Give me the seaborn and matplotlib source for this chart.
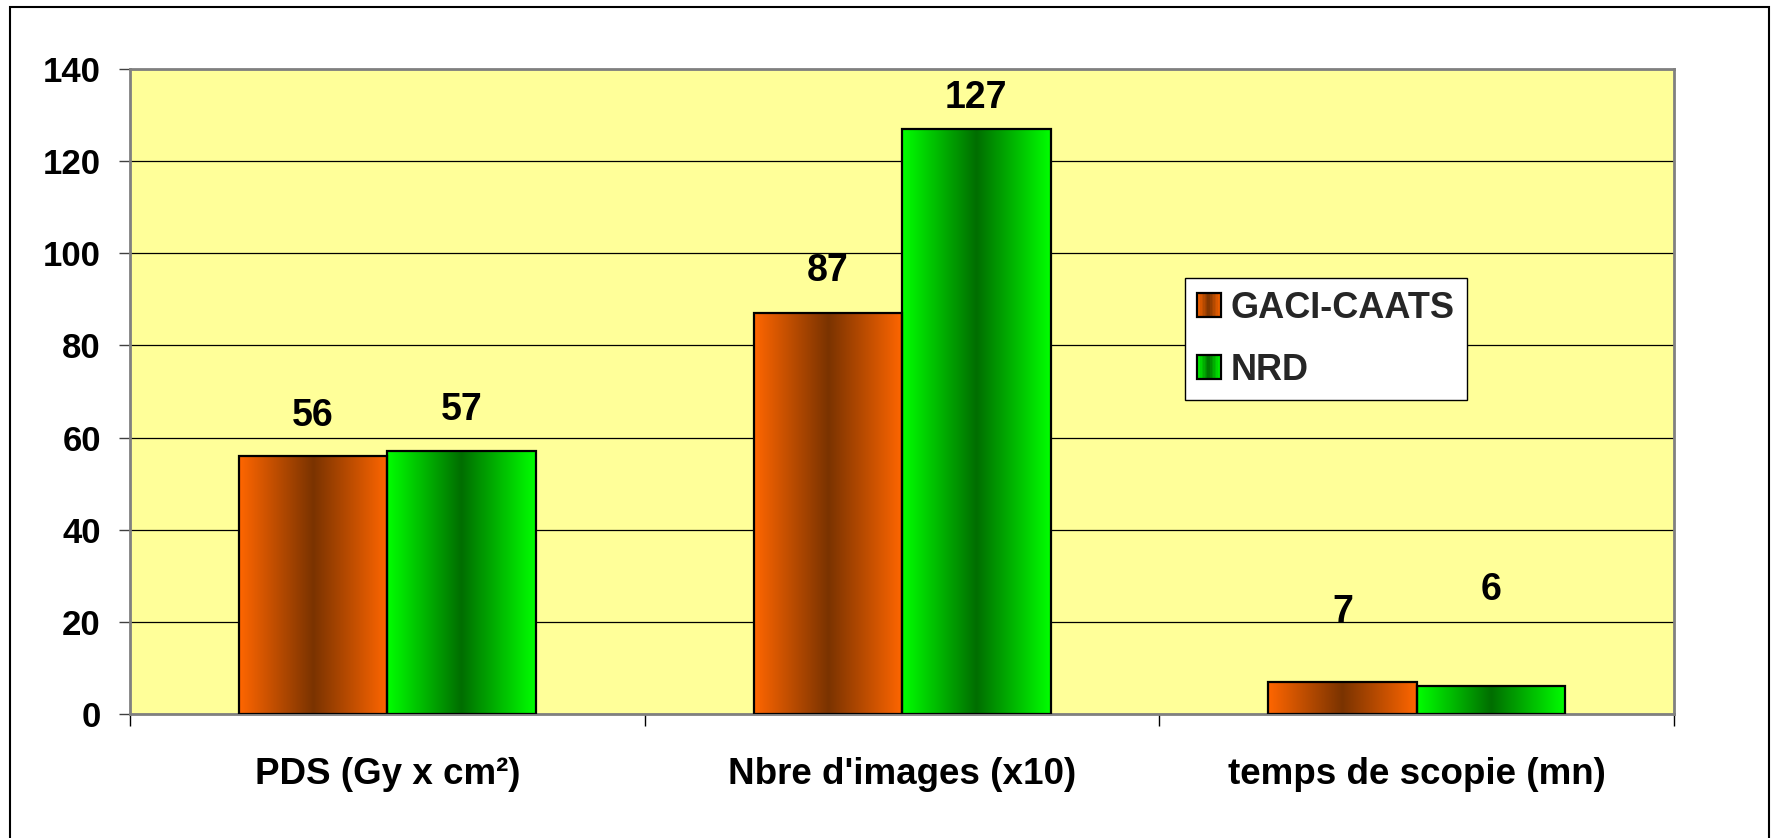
import numpy as np
import pandas as pd
import matplotlib
matplotlib.use("Agg")
import matplotlib.pyplot as plt
import seaborn as sns
from matplotlib.colors import LinearSegmentedColormap
from matplotlib.patches import Rectangle
from matplotlib.legend_handler import HandlerBase

# ---- data -------------------------------------------------------------
categories = ["PDS (Gy x cm²)", "Nbre d'images (x10)", "temps de scopie (mn)"]
series = ["GACI-CAATS", "NRD"]
gaci_values = [56, 87, 7]
nrd_values = [57, 127, 6]
y_ticks = [0, 20, 40, 60, 80, 100, 120, 140]

# ---- styling ----------------------------------------------------------
palette = {"GACI-CAATS": "#FF6600", "NRD": "#00FF00"}
gradients = {
    "GACI-CAATS": LinearSegmentedColormap.from_list(
        "gaci", ["#FF6600", "#7A3300", "#FF6600"]),
    "NRD": LinearSegmentedColormap.from_list(
        "nrd", ["#00FF00", "#006E00", "#00FF00"]),
}
# vertical offset (points) of each value label above its bar, GACI then NRD
label_offsets = {"GACI-CAATS": [29, 30, 50], "NRD": [30, 22, 69]}

sns.set_theme(style="white")
plt.rcParams["font.family"] = ["Liberation Sans", "DejaVu Sans"]
plt.rcParams["font.weight"] = "bold"

df = pd.DataFrame({
    "categorie": categories * 2,
    "serie": [series[0]] * len(categories) + [series[1]] * len(categories),
    "valeur": gaci_values + nrd_values,
})

fig = plt.figure(figsize=(17.73, 8.38), dpi=100)
fig.patch.set_facecolor("white")
ax = fig.add_axes([0.0733, 0.148, 0.8709, 0.7697])
ax.set_facecolor("#FFFF99")

sns.barplot(data=df, x="categorie", y="valeur", hue="serie",
            hue_order=series, order=categories, palette=palette,
            saturation=1, width=0.577, gap=0, legend=False,
            edgecolor="black", linewidth=1.6, ax=ax, zorder=3)

# replace flat fills with a horizontal light-dark-light gradient
grad = np.linspace(0, 1, 256).reshape(1, -1)
bars = [p for p in ax.patches if isinstance(p, Rectangle) and p.get_height() > 0]
per_series = {s: [] for s in series}
for p in bars:
    fc = p.get_facecolor()
    s = series[0] if fc[0] > 0.5 else series[1]
    per_series[s].append(p)
    x0, w, h = p.get_x(), p.get_width(), p.get_height()
    ax.imshow(grad, extent=[x0, x0 + w, 0, h], aspect="auto",
              cmap=gradients[s], interpolation="bicubic", zorder=2)
    p.set_facecolor("none")
ax.set_xlim(-0.5, len(categories) - 0.5)
ax.set_ylim(0, 140)
ax.set_aspect("auto")

# value labels
for s in series:
    ps = sorted(per_series[s], key=lambda r: r.get_x())
    for p, off in zip(ps, label_offsets[s]):
        v = p.get_height()
        ax.annotate(f"{v:g}", xy=(p.get_x() + p.get_width() / 2, v),
                    xytext=(0, off), textcoords="offset points",
                    ha="center", va="center", fontsize=27,
                    fontweight="bold", color="black", zorder=5)

# grid and axes
ax.set_yticks(y_ticks)
ax.yaxis.grid(True, color="black", linewidth=0.9)
ax.set_axisbelow(True)
for sp in ax.spines.values():
    sp.set_visible(True)
    sp.set_color("#808080")
    sp.set_linewidth(2)

ax.tick_params(axis="y", which="major", direction="out", length=8,
               width=1, color="#404040", pad=13, labelsize=25,
               left=True)
ax.set_xticks(range(len(categories)))
ax.set_xticklabels(categories)
ax.set_xticks(np.arange(-0.5, len(categories)), minor=True)
ax.tick_params(axis="x", which="major", length=0, pad=31, labelsize=26.5)
ax.tick_params(axis="x", which="minor", direction="out", length=8.6,
               width=1, color="black", bottom=True)
for lbl in ax.get_xticklabels() + ax.get_yticklabels():
    lbl.set_fontweight("bold")
    lbl.set_color("black")
ax.set_xlabel("")
ax.set_ylabel("")


# legend with gradient swatches
class GradientHandler(HandlerBase):
    def __init__(self, cmap, n=16):
        super().__init__()
        self.cmap = cmap
        self.n = n

    def create_artists(self, legend, orig_handle, xdescent, ydescent,
                       width, height, fontsize, trans):
        side = min(width, height)
        x0 = -xdescent + width - side
        y0 = -ydescent + (height - side) / 2
        arts = []
        step = side / self.n
        for i in range(self.n):
            c = self.cmap((i + 0.5) / self.n)
            arts.append(Rectangle((x0 + i * step, y0), step * 1.05, side,
                                  facecolor=c, edgecolor="none",
                                  transform=trans))
        arts.append(Rectangle((x0, y0), side, side, facecolor="none",
                              edgecolor="black", linewidth=1.6,
                              transform=trans))
        return arts


handles = [Rectangle((0, 0), 1, 1) for _ in series]
leg = ax.legend(handles, series,
                handler_map={h: GradientHandler(gradients[s])
                             for h, s in zip(handles, series)},
                loc="upper left", bbox_to_anchor=(0.683, 0.676),
                borderaxespad=0, frameon=True, fancybox=False,
                framealpha=1, fontsize=26, handlelength=0.65,
                handleheight=0.65, handletextpad=0.28, labelspacing=0.75,
                borderpad=0.35)
leg.get_frame().set_edgecolor("black")
leg.get_frame().set_linewidth(1)
leg.get_frame().set_facecolor("white")
leg.set_zorder(6)
for t in leg.get_texts():
    t.set_fontweight("bold")

# outer frame of the figure
fig.add_artist(Rectangle((10 / 1773, -0.01), (1769 - 10) / 1773,
                         1 - 7 / 838 + 0.01, transform=fig.transFigure,
                         fill=False, edgecolor="black", linewidth=1.5))

fig.savefig("out.png", dpi=100)
